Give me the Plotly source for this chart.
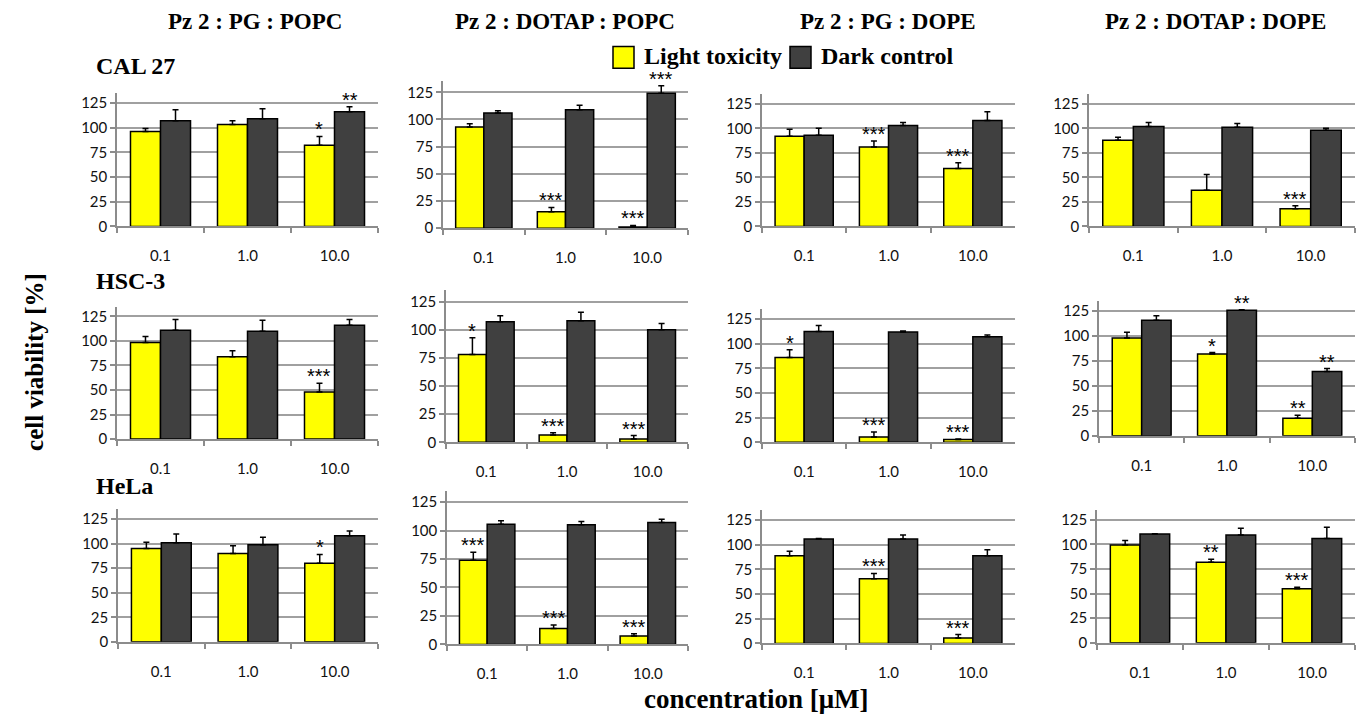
import plotly.graph_objects as go

# ---------------- data ----------------
conc = ["0.1", "1.0", "10.0"]
lipids = ["Pz 2 : PG : POPC", "Pz 2 : DOTAP : POPC", "Pz 2 : PG : DOPE", "Pz 2 : DOTAP : DOPE"]
cells = ["CAL 27", "HSC-3", "HeLa"]

# CAL 27 (one list per lipid mixture, values for 0.1 / 1.0 / 10.0 uM)
light_cal27 = [[96, 103, 82], [93, 15, 1], [92, 81, 59], [88, 37, 18]]
light_cal27_err = [[3, 4, 9], [3, 4, 1.5], [7, 6, 6], [3, 16, 3]]
dark_cal27 = [[107, 109, 116], [106, 109, 124], [93, 103, 108], [102, 101, 98]]
dark_cal27_err = [[11, 10, 5], [2, 4, 7], [7, 3, 9], [4, 4, 2]]
sig_light_cal27 = [["", "", "*"], ["", "***", "***"], ["", "***", "***"], ["", "", "***"]]
sig_dark_cal27 = [["", "", "**"], ["", "", "***"], ["", "", ""], ["", "", ""]]

# HSC-3
light_hsc3 = [[98.5, 84, 48], [78, 6.5, 3], [86, 5.5, 3], [98, 82, 17.5]]
light_hsc3_err = [[6, 6, 9], [15, 2, 3], [8, 5, 0.5], [6, 1.5, 3]]
dark_hsc3 = [[111, 110, 116], [107, 108, 100], [112.5, 112, 107], [116, 126, 64.5]]
dark_hsc3_err = [[11, 11, 6], [5.5, 7.5, 5.5], [6, 1, 2], [4.5, 0.5, 3]]
sig_light_hsc3 = [["", "", "***"], ["*", "***", "***"], ["*", "***", "***"], ["", "*", "**"]]
sig_dark_hsc3 = [["", "", ""], ["", "", ""], ["", "", ""], ["", "**", "**"]]

# HeLa
light_hela = [[95, 90, 80], [74, 14, 7.5], [89, 65.5, 5.5], [99.5, 82, 55]]
light_hela_err = [[6.5, 8, 9], [7, 3, 2], [4.5, 5.5, 3.5], [4.5, 3, 1.5]]
dark_hela = [[101, 99, 108], [105.5, 105, 107], [106, 106, 89], [110.5, 109.5, 106]]
dark_hela_err = [[9, 7.5, 5], [3, 3, 3], [0.5, 4, 6], [0.5, 7, 11.5]]
sig_light_hela = [["", "", "*"], ["***", "***", "***"], ["", "***", "***"], ["", "**", "***"]]
sig_dark_hela = [["", "", ""], ["", "", ""], ["", "", ""], ["", "", ""]]

y_ticks = [0, 25, 50, 75, 100, 125]

light = [light_cal27, light_hsc3, light_hela]
light_err = [light_cal27_err, light_hsc3_err, light_hela_err]
dark = [dark_cal27, dark_hsc3, dark_hela]
dark_err = [dark_cal27_err, dark_hsc3_err, dark_hela_err]
sig_light = [sig_light_cal27, sig_light_hsc3, sig_light_hela]
sig_dark = [sig_dark_cal27, sig_dark_hsc3, sig_dark_hela]

# ---------------- layout geometry (pixels) ----------------
W, H = 1357, 720
YMAX = 135
# (x_left, x_right, y_of_0, y_of_125)
panel_px = {
    (0, 0): (117, 378, 229, 104), (0, 1): (443, 688, 230.7, 93.3),
    (0, 2): (762, 1015, 229, 105), (0, 3): (1089, 1355, 229, 105),
    (1, 0): (117, 378, 444, 320), (1, 1): (446, 688, 447.3, 305),
    (1, 2): (762, 1015, 447.3, 322.7), (1, 3): (1099, 1355, 440.7, 314.7),
    (2, 0): (118, 378, 649, 525), (2, 1): (447, 688, 651.7, 507.7),
    (2, 2): (762, 1015, 650.7, 526), (2, 3): (1097, 1355, 650, 525.7),
}

YELLOW = "#FFFF00"
DARK = "#404040"
AXIS = "#8c8c8c"
GRID = "#a0a0a0"
TICKFONT = "Lato"
SERIF = "Liberation Serif"
OFF = (1 - 0.31) / 4  # centre offset of each bar in a group

fig = go.Figure()
layout = {}
annotations = []

for r in range(3):
    for c in range(4):
        idx = r * 4 + c + 1
        xa = "x" if idx == 1 else f"x{idx}"
        ya = "y" if idx == 1 else f"y{idx}"
        xl, xr, y0, y125 = panel_px[(r, c)]
        ppu = (y0 - y125) / 125.0
        ytop = y0 - ppu * YMAX
        layout["xaxis" if idx == 1 else f"xaxis{idx}"] = dict(
            domain=[xl / W, xr / W], anchor=ya, type="category",
            range=[-0.5, 2.5], showline=True, linecolor=AXIS, linewidth=1.5,
            ticks="outside", ticklen=5, tickwidth=1.5, tickcolor=AXIS,
            tickson="boundaries", showgrid=False, zeroline=False,
            tickfont=dict(family=TICKFONT, size=15, color="#111111"),
            ticklabelstandoff=15, fixedrange=True,
        )
        layout["yaxis" if idx == 1 else f"yaxis{idx}"] = dict(
            domain=[(H - y0) / H, (H - ytop) / H], anchor=xa,
            range=[0, YMAX], tickvals=y_ticks, showline=True, linecolor=AXIS,
            linewidth=1.5, ticks="outside", ticklen=5, tickwidth=1.5, tickcolor=AXIS,
            showgrid=True, gridcolor=GRID, gridwidth=1.5, zeroline=False,
            tickfont=dict(family=TICKFONT, size=15, color="#111111"), fixedrange=True,
        )
        for vals, errs, col, grp in ((light[r][c], light_err[r][c], YELLOW, "L"),
                                     (dark[r][c], dark_err[r][c], DARK, "D")):
            fig.add_trace(go.Bar(
                x=conc, y=vals, xaxis=xa, yaxis=ya, offsetgroup=grp,
                marker=dict(color=col, line=dict(color="black", width=1.5)),
                error_y=dict(type="data", array=errs, arrayminus=[0] * len(errs),
                             symmetric=False, color="black", thickness=1.5, width=3),
                showlegend=False, hoverinfo="skip",
            ))
        for i in range(3):
            for sig, vals, errs, sgn in ((sig_light[r][c], light[r][c], light_err[r][c], -1),
                                         (sig_dark[r][c], dark[r][c], dark_err[r][c], 1)):
                if sig[i]:
                    annotations.append(dict(
                        x=i + sgn * OFF, y=vals[i] + errs[i], xref=xa, yref=ya,
                        text=sig[i], showarrow=False, xanchor="center",
                        yanchor="bottom", yshift=-6,
                        font=dict(family="Liberation Sans", size=20, color="black"),
                    ))

# column titles
title_x = [255, 565, 888, 1215]
for c in range(4):
    annotations.append(dict(
        x=title_x[c] / W, y=(H - 22) / H, xref="paper", yref="paper", text=lipids[c],
        showarrow=False, xanchor="center", yanchor="middle",
        font=dict(family=SERIF, size=23, color="black", weight="bold"),
    ))
# row labels
row_y = [67, 284, 491]
for r in range(3):
    annotations.append(dict(
        x=94 / W, y=(H - row_y[r]) / H, xref="paper", yref="paper", text=cells[r],
        showarrow=False, xanchor="left", yanchor="middle",
        font=dict(family=SERIF, size=24, color="black", weight="bold"),
    ))
# axis titles
annotations.append(dict(
    x=35 / W, y=(H - 366) / H, xref="paper", yref="paper", text="cell viability [%]",
    showarrow=False, textangle=-90, xanchor="center", yanchor="middle",
    font=dict(family=SERIF, size=25, color="black", weight="bold"),
))
annotations.append(dict(
    x=757 / W, y=(H - 707) / H, xref="paper", yref="paper", text="concentration [μM]",
    showarrow=False, xanchor="center", yanchor="middle",
    font=dict(family=SERIF, size=27, color="black", weight="bold"),
))

# legend (drawn manually to match square size)
legend_items = [("Light toxicity", YELLOW, 613), ("Dark control", DARK, 790)]
shapes = []
for name, col, lx in legend_items:
    shapes.append(dict(type="rect", xref="paper", yref="paper",
                       x0=lx / W, x1=(lx + 21) / W, y0=(H - 69) / H, y1=(H - 47) / H,
                       fillcolor=col, line=dict(color="black", width=1.5)))
    annotations.append(dict(
        x=(lx + 29) / W, y=(H - 57) / H, xref="paper", yref="paper", text=name,
        showarrow=False, xanchor="left", yanchor="middle",
        font=dict(family=SERIF, size=24, color="black", weight="bold"),
    ))

fig.update_layout(
    width=W, height=H, margin=dict(l=0, r=0, t=0, b=0),
    paper_bgcolor="white", plot_bgcolor="white",
    barmode="group", bargap=0.31, bargroupgap=0,
    annotations=annotations, shapes=shapes, showlegend=False,
    **layout,
)

fig.write_html("out.html")
